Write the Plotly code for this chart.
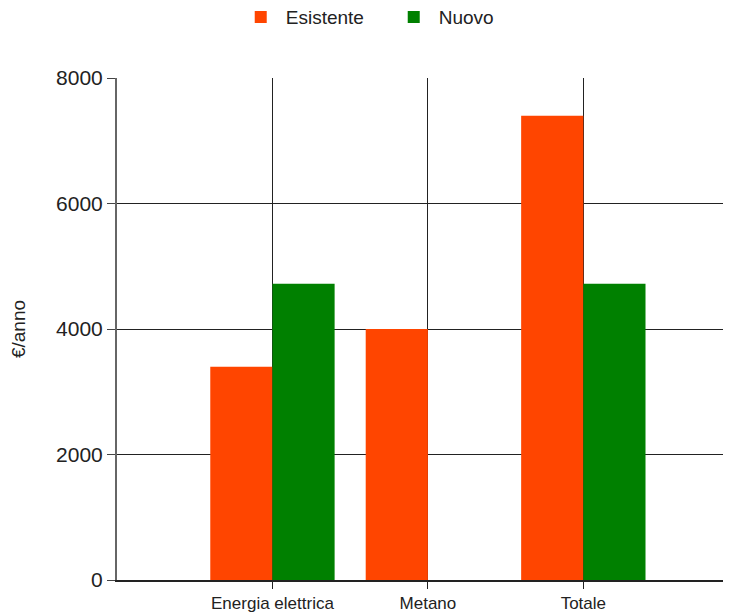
import plotly.graph_objects as go

categories = ["Energia elettrica", "Metano", "Totale"]
esistente = [3400, 4000, 7400]
nuovo = [4720, None, 4720]
y_ticks = [0, 2000, 4000, 6000, 8000]

fig = go.Figure()
fig.add_trace(go.Bar(name="Esistente", x=categories, y=esistente,
                     marker=dict(color="#FF4500", line=dict(width=0))))
fig.add_trace(go.Bar(name="Nuovo", x=categories, y=nuovo,
                     marker=dict(color="#008000", line=dict(width=0))))

fig.update_layout(
    width=723, height=608,
    margin=dict(l=109, r=0, t=70, b=36),
    paper_bgcolor="white", plot_bgcolor="white",
    barmode="group", bargap=0.2, bargroupgap=0,
    font=dict(family="Liberation Sans, Arial, sans-serif", color="#222"),
    legend=dict(orientation="h", xref="container", yref="container",
                x=0.5266, xanchor="center", y=0.985, yanchor="middle",
                font=dict(size=19, color="#222"), itemwidth=40,
                entrywidth=98, entrywidthmode="pixels"),
    xaxis=dict(type="category", range=[-1, 2.95],
               showgrid=True, gridcolor="#222", gridwidth=1.3,
               ticks="outside", ticklen=7, tickcolor="#222", tickwidth=1.3,
               showline=True, linecolor="#222", linewidth=1.5,
               tickfont=dict(size=17, color="#222"), zeroline=False),
    yaxis=dict(range=[0, 8000], tickvals=y_ticks,
               showgrid=True, gridcolor="#222", gridwidth=1.3,
               ticks="outside", ticklen=8, tickcolor="#444", tickwidth=1.3,
               showline=True, linecolor="#666", linewidth=2,
               tickfont=dict(size=21, color="#222"), zeroline=False,
               title=dict(text="€/anno", font=dict(size=19, color="#222"), standoff=28)),
)

fig.write_html("out.html")
